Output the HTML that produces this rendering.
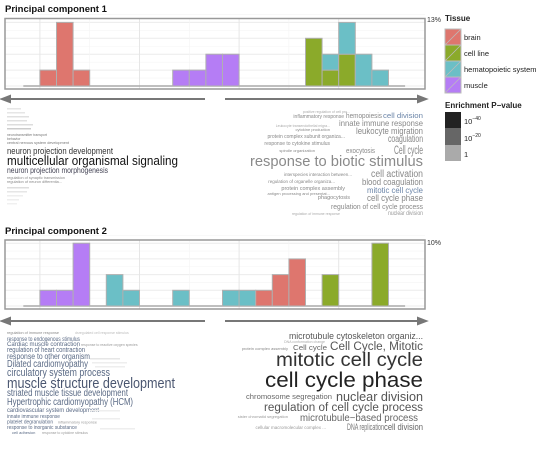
<!DOCTYPE html>
<html><head><meta charset="utf-8"><style>
body{margin:0;background:#fff;width:538px;height:446px;overflow:hidden;font-family:"Liberation Sans",sans-serif}
svg text{font-family:"Liberation Sans",sans-serif}
</style></head><body>
<svg id="chart" width="538" height="446" xmlns="http://www.w3.org/2000/svg">
<text x="5" y="12" font-size="9.5" font-weight="bold" fill="#111">Principal component 1</text>
<text x="5" y="234" font-size="9.5" font-weight="bold" fill="#111">Principal component 2</text>
<g id="pc1"></g>
<g id="pc2"></g>
<g stroke="#777" stroke-width="2" fill="#777">
<line x1="8" y1="99" x2="205" y2="99"/><polygon points="2,99 10,96 10,102"/>
<line x1="225" y1="99" x2="420" y2="99"/><polygon points="426,99 418,96 418,102"/>
</g>
<g stroke="#777" stroke-width="2" fill="#777">
<line x1="8" y1="321" x2="205" y2="321"/><polygon points="2,321 10,318 10,324"/>
<line x1="225" y1="321" x2="420" y2="321"/><polygon points="426,321 418,318 418,324"/>
</g>
<text x="427" y="22" font-size="7" fill="#333">13%</text>
<text x="427" y="245" font-size="7" fill="#333">10%</text>
<g font-size="7.5" fill="#222">
<text x="445" y="21" font-weight="bold" font-size="8">Tissue</text>
<rect x="445" y="29" width="16" height="16" fill="#DE766E" stroke="#bbb"/>
<rect x="445" y="45" width="16" height="16" fill="#8BAA2A" stroke="#bbb"/>
<rect x="445" y="61" width="16" height="16" fill="#6BBFC6" stroke="#bbb"/>
<rect x="445" y="77" width="16" height="16" fill="#B57DF5" stroke="#bbb"/>
<g stroke="#bbb" stroke-width="0.8"><line x1="445" y1="45" x2="461" y2="29"/><line x1="445" y1="61" x2="461" y2="45"/><line x1="445" y1="77" x2="461" y2="61"/><line x1="445" y1="93" x2="461" y2="77"/></g>
<text x="464" y="40">brain</text><text x="464" y="56">cell line</text><text x="464" y="72">hematopoietic system</text><text x="464" y="88">muscle</text>
</g>
<g font-size="7.5" fill="#222">
<text x="445" y="108" font-weight="bold" font-size="8">Enrichment P−value</text>
<rect x="445" y="112" width="16" height="16" fill="#222"/>
<rect x="445" y="128" width="16" height="17" fill="#666"/>
<rect x="445" y="145" width="16" height="16" fill="#aaa"/>
<text x="464" y="124">10<tspan font-size="5" dy="-4">−40</tspan></text>
<text x="464" y="141">10<tspan font-size="5" dy="-4">−20</tspan></text>
<text x="464" y="157">1</text>
</g>

<g fill="#555" lengthAdjust="spacingAndGlyphs">
<rect x="7" y="108" width="14" height="1.5" fill="#e6e6e6"/><rect x="7" y="112" width="18" height="1.5" fill="#e6e6e6"/><rect x="7" y="116" width="22" height="1.5" fill="#e0e0e0"/><rect x="7" y="120" width="20" height="1.5" fill="#e0e0e0"/><rect x="7" y="124" width="26" height="1.5" fill="#ddd"/><rect x="7" y="128" width="24" height="1.5" fill="#ccc"/>
<text x="7" y="136" font-size="3.5" fill="#777" textLength="40" lengthAdjust="spacingAndGlyphs">neurotransmitter transport</text>
<text x="7" y="140" font-size="3.5" fill="#777">behavior</text>
<text x="7" y="144" font-size="3.5" fill="#777" textLength="62" lengthAdjust="spacingAndGlyphs">central nervous system development</text>
<text x="7" y="154" font-size="9" fill="#333" textLength="106" lengthAdjust="spacingAndGlyphs">neuron projection development</text>
<text x="7" y="165" font-size="13" fill="#111" textLength="171" lengthAdjust="spacingAndGlyphs">multicellular organismal signaling</text>
<text x="7" y="173" font-size="8" fill="#445" textLength="101" lengthAdjust="spacingAndGlyphs">neuron projection morphogenesis</text>
<text x="7" y="179" font-size="3.5" fill="#888" textLength="58" lengthAdjust="spacingAndGlyphs">regulation of synaptic transmission</text>
<text x="7" y="183" font-size="3.5" fill="#888" textLength="55" lengthAdjust="spacingAndGlyphs">regulation of neuron differentia...</text>
<rect x="7" y="187" width="22" height="1.5" fill="#ddd"/><rect x="7" y="191" width="20" height="1.5" fill="#e6e6e6"/><rect x="7" y="195" width="16" height="1.5" fill="#eee"/><rect x="7" y="199" width="12" height="1.5" fill="#eee"/><rect x="7" y="203" width="10" height="1.5" fill="#f0f0f0"/>
</g>

<g text-anchor="end" fill="#888">
<text x="350" y="113" font-size="3.5" fill="#aaa">positive regulation of cell pro...</text>
<text x="344" y="118" font-size="5">inflammatory response</text>
<text x="382" y="118" font-size="7.5" textLength="36" lengthAdjust="spacingAndGlyphs">hemopoiesis</text>
<text x="423" y="118" font-size="7.5" fill="#6b85a8" textLength="40" lengthAdjust="spacingAndGlyphs">cell division</text>
<text x="423" y="126" font-size="8.5" textLength="84" lengthAdjust="spacingAndGlyphs">innate immune response</text>
<text x="330" y="127" font-size="3.5" fill="#aaa">Leukocyte transendothelial migra...</text>
<text x="330" y="131" font-size="4">cytokine production</text>
<text x="423" y="134" font-size="9" textLength="67" lengthAdjust="spacingAndGlyphs">leukocyte migration</text>
<text x="345" y="138" font-size="5">protein complex subunit organiza...</text>
<text x="423" y="142" font-size="10" textLength="35" lengthAdjust="spacingAndGlyphs">coagulation</text>
<text x="330" y="145" font-size="5">response to cytokine stimulus</text>
<text x="315" y="152" font-size="4">spindle organization</text>
<text x="375" y="153" font-size="7.5" textLength="29" lengthAdjust="spacingAndGlyphs">exocytosis</text>
<text x="423" y="154" font-size="11.5" textLength="29" lengthAdjust="spacingAndGlyphs">Cell cycle</text>
<text x="423" y="166" font-size="15" fill="#8a8a8a" textLength="173" lengthAdjust="spacingAndGlyphs">response to biotic stimulus</text>
<text x="352" y="176" font-size="4.5">interspecies interaction between...</text>
<text x="423" y="177" font-size="10" textLength="52" lengthAdjust="spacingAndGlyphs">cell activation</text>
<text x="335" y="183" font-size="4.5">regulation of organelle organiza...</text>
<text x="423" y="185" font-size="9.5" textLength="61" lengthAdjust="spacingAndGlyphs">blood coagulation</text>
<text x="345" y="190" font-size="5.5">protein complex assembly</text>
<text x="423" y="193" font-size="8.5" fill="#6b85a8" textLength="56" lengthAdjust="spacingAndGlyphs">mitotic cell cycle</text>
<text x="330" y="195" font-size="4">antigen processing and presentat...</text>
<text x="350" y="199" font-size="5.5">phagocytosis</text>
<text x="423" y="201" font-size="9.5" textLength="56" lengthAdjust="spacingAndGlyphs">cell cycle phase</text>
<text x="423" y="209" font-size="7.5" textLength="92" lengthAdjust="spacingAndGlyphs">regulation of cell cycle process</text>
<text x="340" y="215" font-size="3.5" fill="#aaa">regulation of immune response</text>
<text x="423" y="215" font-size="6" fill="#999" textLength="35" lengthAdjust="spacingAndGlyphs">nuclear division</text>
</g>

<g fill="#5a6a85">
<text x="7" y="334" font-size="4" fill="#888" textLength="52" lengthAdjust="spacingAndGlyphs">regulation of immune response</text>
<text x="75" y="334" font-size="3.5" fill="#bbb">dsregulated cell response stimulus</text>
<text x="7" y="341" font-size="6" textLength="73" lengthAdjust="spacingAndGlyphs">response to endogenous stimulus</text>
<text x="7" y="346" font-size="6" textLength="73" lengthAdjust="spacingAndGlyphs">Cardiac muscle contraction</text>
<text x="81" y="346" font-size="3.5" fill="#999">response to reactive oxygen species</text>
<text x="7" y="352" font-size="7.5" textLength="78" lengthAdjust="spacingAndGlyphs">regulation of heart contraction</text>
<text x="7" y="359" font-size="8.5" textLength="83" lengthAdjust="spacingAndGlyphs">response to other organism</text>
<text x="7" y="367" font-size="10" textLength="81" lengthAdjust="spacingAndGlyphs">Dilated cardiomyopathy</text>
<text x="7" y="376" font-size="11" textLength="103" lengthAdjust="spacingAndGlyphs">circulatory system process</text>
<text x="7" y="388" font-size="15" fill="#4a5670" textLength="168" lengthAdjust="spacingAndGlyphs">muscle structure development</text>
<text x="7" y="396" font-size="10" textLength="121" lengthAdjust="spacingAndGlyphs">striated muscle tissue development</text>
<text x="7" y="405" font-size="10" textLength="126" lengthAdjust="spacingAndGlyphs">Hypertrophic cardiomyopathy (HCM)</text>
<text x="7" y="412" font-size="6.5" textLength="92" lengthAdjust="spacingAndGlyphs">cardiovascular system development</text>
<text x="7" y="418" font-size="5.5" textLength="53" lengthAdjust="spacingAndGlyphs">innate immune response</text>
<text x="7" y="423.5" font-size="5" textLength="46" lengthAdjust="spacingAndGlyphs">platelet degranulation</text>
<text x="58" y="423.5" font-size="3.8" fill="#999" textLength="39" lengthAdjust="spacingAndGlyphs">inflammatory response</text>
<text x="7" y="429" font-size="5.5" textLength="70" lengthAdjust="spacingAndGlyphs">response to inorganic substance</text>
<text x="12" y="434" font-size="4">cell adhesion</text>
<text x="42" y="434" font-size="3.5" fill="#999">response to cytokine stimulus</text>
<rect x="90" y="358" width="30" height="1.5" fill="#e6e6e6"/><rect x="92" y="362" width="35" height="1.5" fill="#eee"/><rect x="95" y="366" width="30" height="1.5" fill="#eee"/><rect x="90" y="410" width="30" height="1.5" fill="#eee"/><rect x="92" y="418" width="28" height="1.5" fill="#eee"/><rect x="100" y="428" width="35" height="1.5" fill="#eee"/>
</g>

<g text-anchor="end" fill="#555">
<text x="423" y="339" font-size="9" fill="#555" textLength="134" lengthAdjust="spacingAndGlyphs">microtubule cytoskeleton organiz...</text>
<text x="325" y="343" font-size="3.5" fill="#aaa">DNA conformation change</text>
<text x="288" y="350" font-size="4" fill="#888">protein complex assembly</text>
<text x="327" y="350" font-size="7.5" fill="#666" textLength="34" lengthAdjust="spacingAndGlyphs">Cell cycle</text>
<text x="423" y="350" font-size="11.5" fill="#555" textLength="93" lengthAdjust="spacingAndGlyphs">Cell Cycle, Mitotic</text>
<text x="423" y="366" font-size="19" fill="#333" textLength="147" lengthAdjust="spacingAndGlyphs">mitotic cell cycle</text>
<text x="423" y="387" font-size="21" fill="#222" textLength="158" lengthAdjust="spacingAndGlyphs">cell cycle phase</text>
<text x="332" y="399" font-size="7" fill="#666" textLength="86" lengthAdjust="spacingAndGlyphs">chromosome segregation</text>
<text x="423" y="401" font-size="12.5" fill="#555" textLength="87" lengthAdjust="spacingAndGlyphs">nuclear division</text>
<text x="423" y="411" font-size="11.5" fill="#555" textLength="159" lengthAdjust="spacingAndGlyphs">regulation of cell cycle process</text>
<text x="288" y="418" font-size="4" fill="#999">sister chromatid segregation</text>
<text x="418" y="421" font-size="10" fill="#666" textLength="118" lengthAdjust="spacingAndGlyphs">microtubule−based process</text>
<text x="326" y="429" font-size="4.5" fill="#999">cellular macromolecular complex ...</text>
<text x="384" y="430" font-size="9" fill="#777" textLength="37" lengthAdjust="spacingAndGlyphs">DNA replication</text>
<text x="423" y="430" font-size="9" fill="#666" textLength="39" lengthAdjust="spacingAndGlyphs">cell division</text>
</g>
</svg>
<script>
// Tissue order: brain, cell line, hematopoietic, muscle
const tissues = ["brain","cell-line","hematopoietic","muscle"];
const tissueColors = ["#DE766E","#8BAA2A","#6BBFC6","#B57DF5"];
const binCount = 23;
// PC1 counts per bin (index 0..22) per tissue
const pc1Brain = [0,1,4,1,0,0,0,0,0,0,0,0,0,0,0,0,0,0,0,0,0,0,0];
const pc1CellLine = [0,0,0,0,0,0,0,0,0,0,0,0,0,0,0,0,0,3,1,2,0,0,0];
const pc1Hemato = [0,0,0,0,0,0,0,0,0,0,0,0,0,0,0,0,0,0,1,2,2,1,0];
const pc1Muscle = [0,0,0,0,0,0,0,0,0,1,1,2,2,0,0,0,0,0,0,0,0,0,0];
// PC2 counts
const pc2Brain = [0,0,0,0,0,0,0,0,0,0,0,0,0,0,1,2,3,0,0,0,0,0,0];
const pc2CellLine = [0,0,0,0,0,0,0,0,0,0,0,0,0,0,0,0,0,0,2,0,0,4,0];
const pc2Hemato = [0,0,0,0,0,2,1,0,0,1,0,0,1,1,0,0,0,0,0,0,0,0,0];
const pc2Muscle = [0,1,1,4,0,0,0,0,0,0,0,0,0,0,0,0,0,0,0,0,0,0,0];

const NS="http://www.w3.org/2000/svg";
function mk(tag,attrs,parent){const e=document.createElementNS(NS,tag);for(const k in attrs)e.setAttribute(k,attrs[k]);parent.appendChild(e);return e;}

function drawPanel(gid, top, bottom, base, unit, series, stackOrder){
  const g=document.getElementById(gid);
  const x0=23.3, bw=16.6;
  const xScale=i=>x0+i*bw;
  const yScale=c=>base-c*unit;
  mk("rect",{x:5,y:top,width:420,height:bottom-top,fill:"#fff",stroke:"none"},g);
  for(let k=0;k<=4;k++){
    const l=mk("line",{x1:5,x2:425,y1:yScale(k),y2:yScale(k),stroke:"#ececec","stroke-width":1},g);
    
    
    mk("line",{x1:5,x2:425,y1:yScale(k+0.5),y2:yScale(k+0.5),stroke:"#f5f5f5","stroke-width":0.6},g);
  }
  [1,7,13,19].forEach(i=>{
    const l=mk("line",{x1:xScale(i),x2:xScale(i),y1:top,y2:bottom,stroke:"#e6e6e6","stroke-width":1},g);
    
    
  });
  [4,10,16].forEach(i=>{mk("line",{x1:xScale(i),x2:xScale(i),y1:top,y2:bottom,stroke:"#f4f4f4","stroke-width":0.6},g);});
  const bl=mk("line",{x1:xScale(0),x2:xScale(23),y1:base,y2:base,stroke:"#aaa","stroke-width":1.5},g);
  
  
  for(let i=0;i<binCount;i++){
    let acc=0;
    stackOrder.forEach(t=>{
      const c=series[t][i];
      if(!c) return;
      const r=mk("rect",{x:xScale(i),y:yScale(acc+c),width:bw,height:c*unit,fill:tissueColors[t],stroke:"#b0b0b0","stroke-width":1},g);
      
      
      acc+=c;
    });
  }
  const frame=mk("rect",{x:5,y:top,width:420,height:bottom-top,fill:"none",stroke:"#999","stroke-width":1.5},g);
  
  
}
drawPanel("pc1",18.5,89,86,15.9,[pc1Brain,pc1CellLine,pc1Hemato,pc1Muscle],[0,1,2,3]);
drawPanel("pc2",240,309,306,15.7,[pc2Brain,pc2CellLine,pc2Hemato,pc2Muscle],[0,1,2,3]);
</script>
</body></html>
